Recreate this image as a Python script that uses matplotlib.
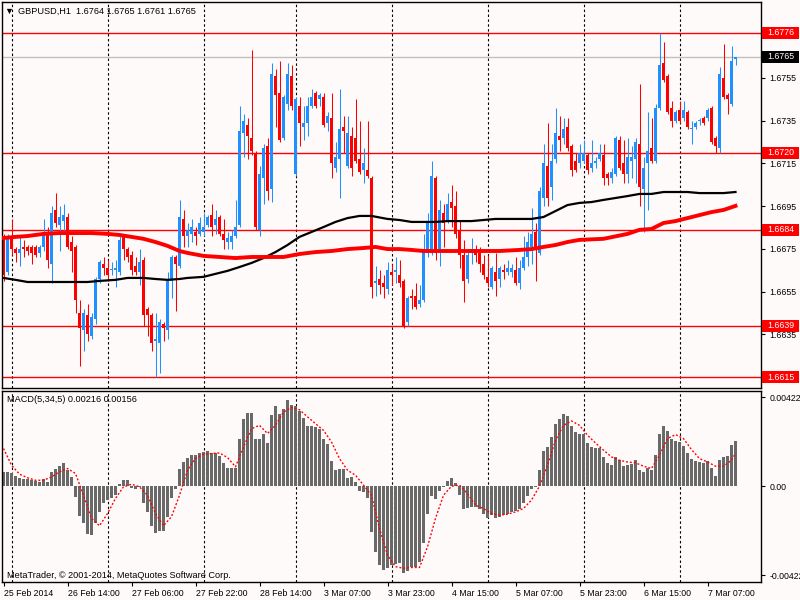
import numpy as np
import matplotlib
matplotlib.use("Agg")
import matplotlib.pyplot as plt
import matplotlib.transforms as mtransforms
from matplotlib.patches import Rectangle

plt.rcParams['font.family'] = ['Liberation Sans', 'DejaVu Sans']

# GBPUSD H1 candles, bar 0 = 25 Feb 22:00
opens = [
    1.6681, 1.6664, 1.6681, 1.6675, 1.6673, 1.6676, 1.6676, 1.6676, 1.6676, 1.6673,
    1.6676, 1.6683, 1.6668, 1.6693, 1.6686, 1.6688, 1.6690, 1.6678, 1.6676, 1.6645,
    1.6637, 1.6644, 1.6634, 1.6642, 1.6661, 1.6668, 1.6666, 1.6665, 1.6665, 1.6664,
    1.6681, 1.6675, 1.6672, 1.6667, 1.6664, 1.6670, 1.6647, 1.6644, 1.6632, 1.6631,
    1.6640, 1.6637, 1.6660, 1.6671, 1.6667, 1.6689, 1.6681, 1.6682, 1.6683, 1.6682,
    1.6683, 1.6686, 1.6691, 1.6686, 1.6690, 1.6682, 1.6678, 1.6678, 1.6681, 1.6686,
    1.6729, 1.6733, 1.6727, 1.6720, 1.6684, 1.6708, 1.6723, 1.6703, 1.6756, 1.6748,
    1.6727, 1.6743, 1.6756, 1.6710, 1.6742, 1.6732, 1.6734, 1.6742, 1.6748, 1.6745,
    1.6746, 1.6734, 1.6736, 1.6713, 1.6717, 1.6732, 1.6714, 1.6728, 1.6727, 1.6717,
    1.6712, 1.6712, 1.6708, 1.6659, 1.6661, 1.6659, 1.6656, 1.6664, 1.6664, 1.6663,
    1.6660, 1.6641, 1.6653, 1.6653, 1.6649, 1.6651, 1.6673, 1.6673, 1.6708, 1.6675,
    1.6692, 1.6688, 1.6697, 1.6695, 1.6684, 1.6672, 1.6661, 1.6673, 1.6675, 1.6673,
    1.6668, 1.6662, 1.6657, 1.6664, 1.6661, 1.6665, 1.6664, 1.6664, 1.6665, 1.6659,
    1.6666, 1.6671, 1.6676, 1.6683, 1.6673, 1.6699, 1.6714, 1.6704, 1.6717, 1.6728,
    1.6727, 1.6732, 1.6723, 1.6716, 1.6715, 1.6716, 1.6719, 1.6713, 1.6715, 1.6717,
    1.6719, 1.6710, 1.6708, 1.6710, 1.6726, 1.6715, 1.6710, 1.6716, 1.6717, 1.6724,
    1.6703, 1.6715, 1.6722, 1.6716, 1.6741, 1.6762, 1.6756, 1.6741, 1.6735, 1.6740,
    1.6736, 1.6739, 1.6731, 1.6732, 1.6735, 1.6736, 1.6736, 1.6741, 1.6727, 1.6722,
    1.6755, 1.6747, 1.6743, 1.6764,
]
highs = [
    1.6682, 1.6682, 1.6689, 1.6676, 1.6681, 1.6679, 1.6677, 1.6677, 1.6677, 1.6677,
    1.6689, 1.6685, 1.6695, 1.6701, 1.6695, 1.6696, 1.6692, 1.6681, 1.6677, 1.6651,
    1.6647, 1.6649, 1.6645, 1.6662, 1.6670, 1.6671, 1.6670, 1.6669, 1.6670, 1.6681,
    1.6682, 1.6676, 1.6674, 1.6671, 1.6675, 1.6671, 1.6648, 1.6645, 1.6645, 1.6642,
    1.6641, 1.6664, 1.6672, 1.6672, 1.6698, 1.6693, 1.6687, 1.6689, 1.6685, 1.6690,
    1.6692, 1.6691, 1.6696, 1.6693, 1.6691, 1.6689, 1.6683, 1.6684, 1.6698, 1.6742,
    1.6738, 1.6736, 1.6768, 1.6721, 1.6714, 1.6724, 1.6727, 1.6762, 1.6759, 1.6763,
    1.6747, 1.6762, 1.6761, 1.6746, 1.6746, 1.6742, 1.6746, 1.6750, 1.6749, 1.6748,
    1.6748, 1.6739, 1.6748, 1.6725, 1.6750, 1.6737, 1.6737, 1.6732, 1.6745, 1.6735,
    1.6722, 1.6735, 1.6709, 1.6667, 1.6665, 1.6663, 1.6669, 1.6668, 1.6671, 1.6670,
    1.6661, 1.6653, 1.6656, 1.6659, 1.6658, 1.6682, 1.6692, 1.6716, 1.6709, 1.6698,
    1.6696, 1.6701, 1.6705, 1.6702, 1.6688, 1.6679, 1.6675, 1.6680, 1.6677, 1.6676,
    1.6672, 1.6672, 1.6667, 1.6673, 1.6667, 1.6668, 1.6670, 1.6668, 1.6671, 1.6670,
    1.6681, 1.6683, 1.6694, 1.6687, 1.6704, 1.6724, 1.6734, 1.6724, 1.6741, 1.6737,
    1.6736, 1.6736, 1.6724, 1.6720, 1.6724, 1.6726, 1.6720, 1.6726, 1.6718, 1.6724,
    1.6724, 1.6711, 1.6713, 1.6728, 1.6728, 1.6726, 1.6727, 1.6723, 1.6727, 1.6752,
    1.6718, 1.6739, 1.6736, 1.6743, 1.6776, 1.6772, 1.6757, 1.6744, 1.6740, 1.6744,
    1.6744, 1.6740, 1.6735, 1.6735, 1.6736, 1.6737, 1.6741, 1.6742, 1.6728, 1.6760,
    1.6771, 1.6748, 1.6770, 1.6765,
]
lows = [
    1.6660, 1.6663, 1.6672, 1.6669, 1.6667, 1.6671, 1.6672, 1.6668, 1.6671, 1.6671,
    1.6674, 1.6666, 1.6659, 1.6685, 1.6674, 1.6682, 1.6675, 1.6664, 1.6645, 1.6620,
    1.6627, 1.6632, 1.6633, 1.6640, 1.6659, 1.6663, 1.6660, 1.6663, 1.6657, 1.6663,
    1.6670, 1.6669, 1.6663, 1.6663, 1.6658, 1.6639, 1.6634, 1.6627, 1.6615, 1.6617,
    1.6632, 1.6633, 1.6652, 1.6646, 1.6666, 1.6676, 1.6676, 1.6678, 1.6677, 1.6681,
    1.6681, 1.6685, 1.6681, 1.6682, 1.6681, 1.6675, 1.6675, 1.6675, 1.6680, 1.6685,
    1.6718, 1.6717, 1.6719, 1.6684, 1.6681, 1.6696, 1.6698, 1.6697, 1.6732, 1.6725,
    1.6726, 1.6740, 1.6740, 1.6709, 1.6723, 1.6726, 1.6728, 1.6741, 1.6741, 1.6742,
    1.6732, 1.6730, 1.6708, 1.6711, 1.6699, 1.6720, 1.6713, 1.6709, 1.6715, 1.6710,
    1.6706, 1.6708, 1.6652, 1.6653, 1.6654, 1.6652, 1.6654, 1.6658, 1.6659, 1.6657,
    1.6638, 1.6639, 1.6647, 1.6647, 1.6648, 1.6650, 1.6671, 1.6672, 1.6670, 1.6667,
    1.6676, 1.6687, 1.6685, 1.6680, 1.6666, 1.6650, 1.6659, 1.6668, 1.6669, 1.6664,
    1.6661, 1.6657, 1.6656, 1.6653, 1.6657, 1.6661, 1.6663, 1.6662, 1.6658, 1.6656,
    1.6665, 1.6667, 1.6668, 1.6660, 1.6672, 1.6695, 1.6695, 1.6698, 1.6715, 1.6721,
    1.6724, 1.6721, 1.6709, 1.6711, 1.6713, 1.6715, 1.6710, 1.6711, 1.6713, 1.6716,
    1.6705, 1.6705, 1.6706, 1.6709, 1.6712, 1.6706, 1.6706, 1.6708, 1.6706, 1.6695,
    1.6683, 1.6693, 1.6715, 1.6715, 1.6740, 1.6753, 1.6738, 1.6732, 1.6734, 1.6734,
    1.6735, 1.6731, 1.6724, 1.6731, 1.6733, 1.6733, 1.6735, 1.6724, 1.6720, 1.6720,
    1.6745, 1.6738, 1.6742, 1.6761,
]
closes = [
    1.6663, 1.6681, 1.6675, 1.6673, 1.6675, 1.6675, 1.6674, 1.6673, 1.6672, 1.6676,
    1.6683, 1.6670, 1.6692, 1.6687, 1.6690, 1.6691, 1.6676, 1.6674, 1.6651, 1.6638,
    1.6645, 1.6635, 1.6643, 1.6661, 1.6669, 1.6666, 1.6663, 1.6665, 1.6666, 1.6679,
    1.6675, 1.6671, 1.6665, 1.6664, 1.6669, 1.6644, 1.6644, 1.6631, 1.6633, 1.6641,
    1.6638, 1.6660, 1.6671, 1.6668, 1.6690, 1.6681, 1.6684, 1.6685, 1.6681, 1.6687,
    1.6685, 1.6690, 1.6685, 1.6689, 1.6682, 1.6679, 1.6680, 1.6681, 1.6685, 1.6730,
    1.6735, 1.6728, 1.6721, 1.6685, 1.6710, 1.6722, 1.6702, 1.6757, 1.6747, 1.6726,
    1.6746, 1.6757, 1.6742, 1.6745, 1.6734, 1.6734, 1.6742, 1.6746, 1.6742, 1.6747,
    1.6733, 1.6737, 1.6715, 1.6718, 1.6731, 1.6730, 1.6729, 1.6713, 1.6716, 1.6711,
    1.6715, 1.6709, 1.6657, 1.6660, 1.6658, 1.6657, 1.6665, 1.6663, 1.6665, 1.6659,
    1.6639, 1.6652, 1.6652, 1.6648, 1.6651, 1.6675, 1.6687, 1.6709, 1.6673, 1.6693,
    1.6687, 1.6696, 1.6694, 1.6682, 1.6672, 1.6660, 1.6672, 1.6675, 1.6672, 1.6668,
    1.6663, 1.6659, 1.6666, 1.6660, 1.6666, 1.6664, 1.6666, 1.6666, 1.6659, 1.6666,
    1.6671, 1.6678, 1.6682, 1.6675, 1.6702, 1.6715, 1.6699, 1.6716, 1.6729, 1.6726,
    1.6731, 1.6722, 1.6712, 1.6712, 1.6720, 1.6720, 1.6712, 1.6715, 1.6716, 1.6720,
    1.6708, 1.6708, 1.6711, 1.6727, 1.6713, 1.6710, 1.6718, 1.6718, 1.6725, 1.6704,
    1.6713, 1.6721, 1.6716, 1.6741, 1.6761, 1.6754, 1.6739, 1.6735, 1.6739, 1.6735,
    1.6740, 1.6732, 1.6731, 1.6734, 1.6735, 1.6734, 1.6740, 1.6725, 1.6723, 1.6757,
    1.6746, 1.6745, 1.6763, 1.6765,
]

# moving averages read at sampled bars
black_ma_bars = [0, 3, 6, 10, 14, 18, 21, 24, 28, 31, 35, 38, 41, 44, 46, 50, 53, 56, 59, 62,
                 65, 68, 71, 74, 77, 80, 83, 86, 89, 92, 96, 99, 102, 105, 108, 111, 114, 117,
                 120, 123, 126, 129, 132, 135, 138, 141, 144, 147, 150, 153, 156, 159, 162,
                 165, 168, 171, 174, 177, 180, 183]
black_ma = [1.66614, 1.66605, 1.66595, 1.66595, 1.66595, 1.66595, 1.66595, 1.66600, 1.66605,
            1.66614, 1.66614, 1.66609, 1.66605, 1.66609, 1.66614, 1.66619, 1.66633, 1.66647,
            1.66665, 1.66684, 1.66707, 1.66735, 1.66768, 1.66806, 1.66829, 1.66852, 1.66876,
            1.66894, 1.66904, 1.66904, 1.66890, 1.66885, 1.66876, 1.66876, 1.66876, 1.66880,
            1.66880, 1.66880, 1.66885, 1.66890, 1.66890, 1.66890, 1.66890, 1.66899, 1.66927,
            1.66955, 1.66965, 1.66969, 1.66979, 1.66988, 1.66997, 1.67007, 1.67007, 1.67016,
            1.67016, 1.67016, 1.67011, 1.67011, 1.67011, 1.67016]
red_ma_bars = [0, 3, 6, 10, 14, 18, 22, 26, 29, 32, 35, 38, 41, 44, 46, 50, 54, 58, 62, 66, 70,
               74, 78, 82, 86, 90, 93, 96, 99, 102, 105, 108, 112, 116, 120, 124, 129, 132,
               135, 138, 141, 144, 150, 156, 159, 162, 165, 168, 171, 174, 177, 180, 183]
red_ma = [1.66801, 1.66806, 1.66810, 1.66820, 1.66824, 1.66824, 1.66824, 1.66820, 1.66815,
          1.66806, 1.66797, 1.66782, 1.66764, 1.66740, 1.66731, 1.66717, 1.66712, 1.66707,
          1.66712, 1.66712, 1.66712, 1.66726, 1.66735, 1.66740, 1.66749, 1.66754, 1.66759,
          1.66749, 1.66749, 1.66745, 1.66740, 1.66740, 1.66740, 1.66740, 1.66740, 1.66740,
          1.66745, 1.66749, 1.66759, 1.66768, 1.66782, 1.66792, 1.66797, 1.66820, 1.66839,
          1.66843, 1.66871, 1.66880, 1.66894, 1.66908, 1.66922, 1.66932, 1.66951]

# MACD(5,34,5) histogram, in units of 1e-5
macd_e5 = [
    68, 68, 63, 47, 40, 36, 33, 28, 24, 21, 32, 21, 65, 81, 98, 109, 76, 44, -51, -141,
    -177, -228, -232, -177, -122, -79, -66, -58, -43, 9, 28, 28, -8, -14, -6, -79, -122, -190, -221, -213,
    -213, -145, -58, -14, 81, 115, 136, 147, 147, 158, 160, 166, 158, 158, 142, 112, 88, 84, 87, 223,
    318, 349, 348, 226, 223, 250, 207, 337, 381, 344, 365, 408, 387, 381, 356, 324, 286, 284, 281, 270,
    223, 198, 119, 76, 81, 81, 40, 44, 21, -24, -27, -55, -216, -311, -374, -398, -390, -374, -370, -367,
    -414, -401, -386, -382, -359, -269, -133, -47, -63, -22, -6, 24, 38, 13, -43, -106, -103, -98, -98, -106,
    -130, -153, -137, -149, -145, -137, -130, -122, -117, -106, -82, -47, -11, -6, 79, 167, 186, 234, 297, 321,
    341, 332, 284, 258, 246, 246, 205, 186, 179, 179, 139, 111, 100, 139, 126, 95, 100, 103, 123, 79,
    68, 88, 76, 147, 246, 284, 261, 226, 213, 210, 191, 158, 128, 120, 115, 112, 120, 84, 47, 123,
    139, 142, 194, 216,
]
signal_bars = list(range(0, 184, 2)) + [183]
signal_e5 = [
    179, 100, 57, 40, 28, 28, 44, 68, 84, 60, -43, -153, -188, -130, -58, -3, 9, -3, -43, -130,
    -188, -145, -43, 76, 131, 152, 155, 158, 136, 92, 186, 273, 289, 250, 289, 352, 373, 363, 329, 297,
    265, 210, 131, 76, 52, 5, -43, -201, -327, -382, -390, -386, -386, -288, -153, -43, 0, 5, -35, -90,
    -106, -130, -137, -133, -122, -106, -66, 0, 100, 218, 289, 310, 289, 242, 205, 171, 139, 123, 115, 111,
    95, 84, 147, 226, 245, 226, 174, 131, 115, 95, 95, 123, 156,
]

levels = [1.6776, 1.6720, 1.6684, 1.6639, 1.6615]
bid = 1.6765
day_starts = [2, 26, 50, 73, 97, 121, 145, 169]
date_ticks = [0, 16, 32, 48, 64, 80, 96, 112, 128, 144, 160, 176]
date_labels = ["25 Feb 2014", "26 Feb 14:00", "27 Feb 06:00", "27 Feb 22:00", "28 Feb 14:00",
               "3 Mar 07:00", "3 Mar 23:00", "4 Mar 15:00", "5 Mar 07:00", "5 Mar 23:00",
               "6 Mar 15:00", "7 Mar 07:00"]

BG = '#FFFAFA'
BULL = '#1E90FF'
BEAR = '#FF0000'
FS = 6.3

o = np.array(opens)
h = np.array(highs)
l = np.array(lows)
c = np.array(closes)
bars = np.arange(len(o))
up = c >= o
cols = np.where(up, BULL, BEAR)

fig = plt.figure(figsize=(8, 6), dpi=100, facecolor=BG)
ax = fig.add_axes([2 / 800, 212 / 600, 759 / 800, 386 / 600], facecolor=BG)
ax2 = fig.add_axes([2 / 800, 18 / 600, 759 / 800, 191 / 600], facecolor=BG)

# 4 px per bar; half-pixel shift keeps bodies and wicks on whole pixels
xlim = (-0.375, 189.375)
ymin, ymax = 1.66099, 1.67905

# main price panel
for b in day_starts:
    ax.axvline(b, color='black', lw=0.8, ls=(0, (2.2, 2.2)), zorder=1)
    ax2.axvline(b, color='black', lw=0.8, ls=(0, (2.2, 2.2)), zorder=1)
for lv in levels:
    ax.axhline(lv, color='red', lw=1, zorder=1.5)
ax.axhline(bid, color='#C0C0C0', lw=1, zorder=1.5)

ax.vlines(bars, l, h, colors=cols, lw=0.75, zorder=2)
body_lo = np.minimum(o, c)
body_h = np.maximum(np.abs(c - o), 0.00004)
ax.bar(bars, body_h, 0.75, bottom=body_lo, color=cols, lw=0, zorder=2)

ax.plot(black_ma_bars, black_ma, color='black', lw=1.6, zorder=3)
ax.plot(red_ma_bars, red_ma, color='red', lw=2.8, zorder=3)

ax.set_xlim(*xlim)
ax.set_ylim(ymin, ymax)
ax.set_xticks([])
ax.yaxis.tick_right()
yt = np.round(np.arange(1.6615, 1.6780, 0.0020), 4)
ax.set_yticks(yt)
# the lowest and highest ticks sit under the level boxes
ax.set_yticklabels(["" if v in (1.6615, 1.6775) else f"{v:.4f}" for v in yt])
ax.tick_params(axis='y', length=3, width=0.8, pad=3, labelsize=FS, colors='black')

tr = mtransforms.blended_transform_factory(fig.transFigure, ax.transData)
box_h = 12 * (ymax - ymin) / 386
for lv in levels:
    ax.add_patch(Rectangle((762 / 800, lv - box_h / 2), 37 / 800, box_h, transform=tr,
                           facecolor='red', edgecolor='none', clip_on=False, zorder=10))
    ax.text(767 / 800, lv, f"{lv:.4f}", transform=tr, color='white', fontsize=FS,
            ha='left', va='center', clip_on=False, zorder=11)
ax.add_patch(Rectangle((762 / 800, bid - box_h / 2), 37 / 800, box_h, transform=tr,
                       facecolor='black', edgecolor='none', clip_on=False, zorder=10))
ax.text(767 / 800, bid, f"{bid:.4f}", transform=tr, color='white', fontsize=FS,
        ha='left', va='center', clip_on=False, zorder=11)

# MACD panel
macd = np.array(macd_e5) * 1e-5
signal = np.array(signal_e5) * 1e-5
ax2.bar(bars, macd, 0.75, color='#696969', lw=0, zorder=2)
ax2.plot(signal_bars, signal, color='red', lw=1, ls=(0, (1.4, 1.4)), zorder=3)
ax2.set_xlim(*xlim)
ax2.set_ylim(-0.00455, 0.00452)
ax2.yaxis.tick_right()
ax2.set_yticks([0.00422, 0.0, -0.00422])
ax2.set_yticklabels(["0.00422", "0.00", "-0.00422"])
ax2.tick_params(axis='y', length=3, width=0.8, pad=3, labelsize=FS, colors='black')
ax2.set_xticks(date_ticks)
ax2.set_xticklabels(date_labels, ha='left')
ax2.tick_params(axis='x', length=3, width=0.8, pad=2, labelsize=FS, colors='black')

for a in (ax, ax2):
    for s in a.spines.values():
        s.set_color('black')
        s.set_linewidth(1)

fig.text(9 / 800, 1 - 11 / 600, "\u25BC", fontsize=6.5, va='center', ha='center')
fig.text(18 / 800, 1 - 11 / 600, "GBPUSD,H1  1.6764 1.6765 1.6761 1.6765",
         fontsize=FS + 0.3, va='center', ha='left')
fig.text(7 / 800, 1 - 400 / 600, "MACD(5,34,5) 0.00216 0.00156",
         fontsize=FS + 0.3, va='center', ha='left')
fig.text(7 / 800, 1 - 575 / 600, "MetaTrader, \u00A9 2001-2014, MetaQuotes Software Corp.",
         fontsize=FS + 0.3, va='center', ha='left')

fig.savefig("out.png", dpi=100, facecolor=BG)
